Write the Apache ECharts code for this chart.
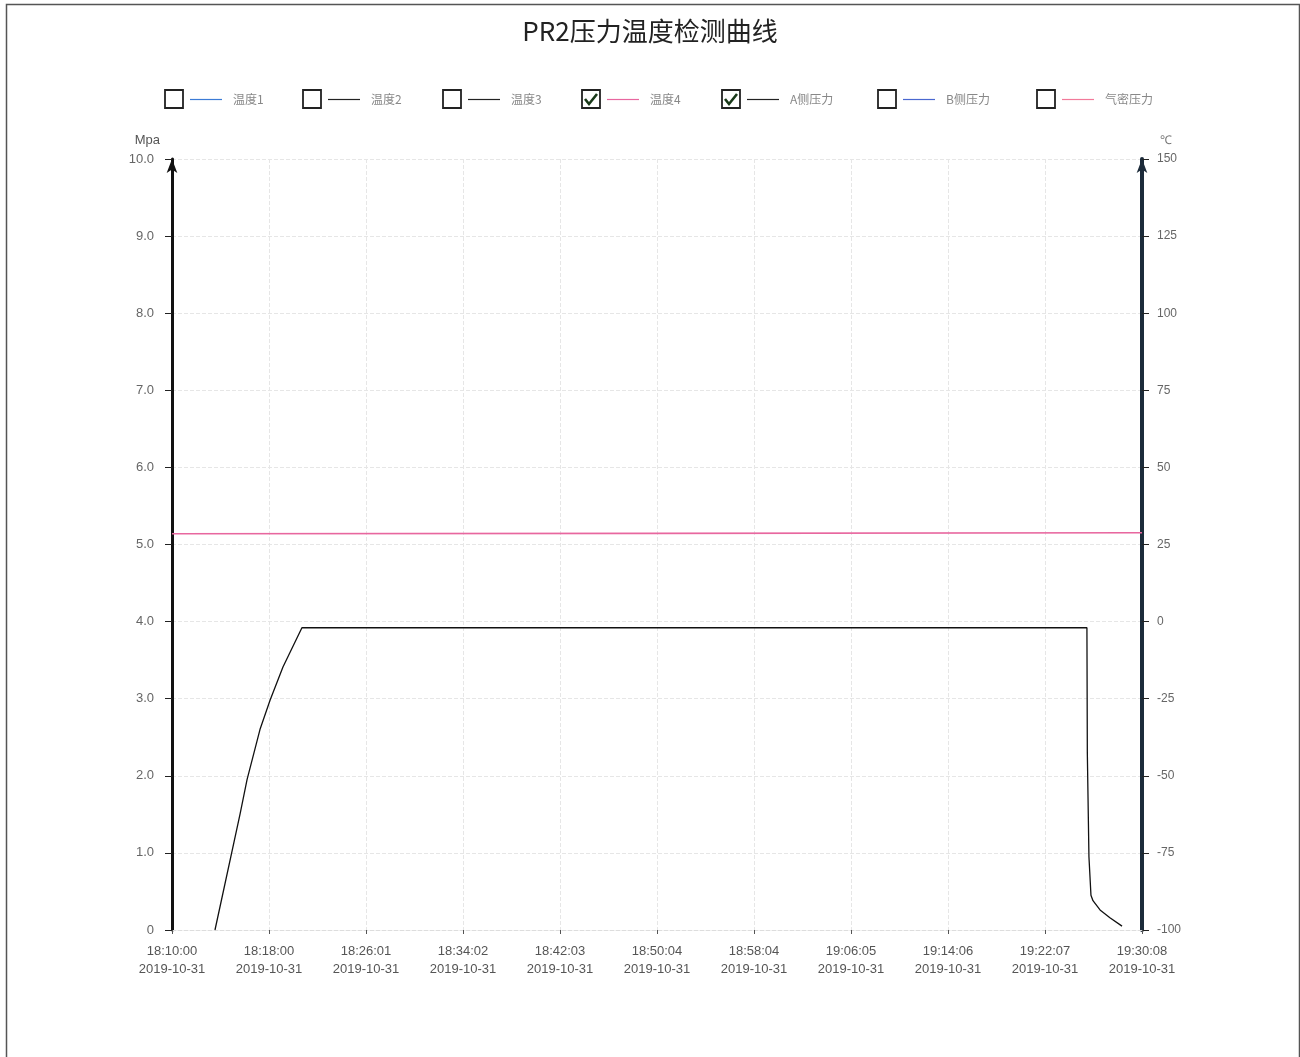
<!DOCTYPE html>
<html><head><meta charset="utf-8">
<script src="https://cdn.jsdelivr.net/npm/echarts@6/dist/echarts.min.js"></script>
<style>html,body{margin:0;padding:0;background:#fff}#c{width:1300px;height:1057px}</style>
</head><body><div id="c"></div>
<script>
// ---- data ----
var title = 'PR2压力温度检测曲线';
var startTime = '18:10:00';
var endTime = '19:30:08';
var dateStr = '2019-10-31';
var legendNames = ['温度1', '温度2', '温度3', '温度4', 'A侧压力', 'B侧压力', '气密压力'];
var legendColors = ['#3b7bd6', '#222222', '#222222', '#e8679f', '#222222', '#4a68d0', '#f27a9a'];
var legendChecked = [false, false, false, true, true, false, false];
var temp4 = [['18:10:00', 28.5], ['18:50:04', 28.6], ['19:30:08', 28.8]];
var pressureA = [
  ['18:13:33', 0.0], ['18:15:37', 1.5], ['18:16:12', 1.95], ['18:17:16', 2.6],
  ['18:18:06', 2.98], ['18:19:10', 3.41], ['18:20:44', 3.92], ['19:25:35', 3.92],
  ['19:25:37', 2.3], ['19:25:45', 0.95], ['19:25:55', 0.45], ['19:26:05', 0.38],
  ['19:26:40', 0.26], ['19:27:29', 0.16], ['19:28:29', 0.05]
];
var leftTicks = {min: 0, max: 10, interval: 1};
var rightTicks = {min: -100, max: 150, interval: 25};

// ---- helpers ----
function toSec(s){var p=s.split(':');return (+p[0])*3600+(+p[1])*60+(+p[2]);}
var t0 = toSec(startTime), t1 = toSec(endTime);
var span = t1 - t0;
function rel(arr){return arr.map(function(d){return [toSec(d[0]) - t0, d[1]];});}
function pad(n){return (n<10?'0':'')+n;}
function fmtTime(v){
  var s = Math.floor(v + 1e-6) + t0;
  return pad(Math.floor(s/3600))+':'+pad(Math.floor(s%3600/60))+':'+pad(s%60) + '\n' + dateStr;
}

// legend graphic (custom checkbox legend)
var legendX = [165, 303, 443, 582, 722, 878, 1037];
var g = [];
g.push({type:'rect', left:4, top:2, shape:{width:1293, height:1060}, style:{fill:'none', stroke:'#555', lineWidth:1.5}, silent:true});
legendNames.forEach(function(n, i){
  var x = legendX[i];
  g.push({type:'rect', shape:{x:x, y:90, width:18, height:18}, style:{fill:'#fff', stroke:'#222', lineWidth:1.8}});
  if (legendChecked[i]) {
    g.push({type:'polyline', shape:{points:[[x+3,99],[x+7,104],[x+15,94]]}, style:{stroke:'#1a3a1a', lineWidth:2.6, fill:null}});
  }
  g.push({type:'line', shape:{x1:x+25, y1:99.5, x2:x+57, y2:99.5}, style:{stroke:legendColors[i], lineWidth:1.2}});
  g.push({type:'text', x:x+68, y:99, style:{text:n, fill:'#888', font:'12px "Noto Sans CJK SC", sans-serif', textVerticalAlign:'middle'}});
});

var chart = echarts.init(document.getElementById('c'));
chart.setOption({
  animation: false,
  backgroundColor: '#fff',
  title: {text: title, left: 'center', top: 13, textStyle: {fontFamily: '"Noto Sans CJK SC", sans-serif', fontSize: 26, fontWeight: 'normal', color: '#222'}},
  grid: {left: 172, right: 158, top: 159, bottom: 127},
  graphic: g,
  xAxis: {
    type: 'value', min: 0, max: span, interval: span / 10,
    axisLine: {show: true, lineStyle: {color: '#ddd', type: 'dashed'}},
    axisTick: {show: true, length: 4, lineStyle: {color: '#555'}},
    splitLine: {show: true, lineStyle: {color: '#e6e6e6', type: 'dashed'}},
    axisLabel: {formatter: fmtTime, color: '#555', fontSize: 13, lineHeight: 18, margin: 12, fontFamily: 'Liberation Sans, Arial, sans-serif'}
  },
  yAxis: [
    {
      type: 'value', min: leftTicks.min, max: leftTicks.max, interval: leftTicks.interval,
      name: 'Mpa', nameGap: 12,
      nameTextStyle: {color: '#555', fontSize: 13, align: 'right', padding: [0, 12, 0, 0], fontFamily: 'Liberation Sans, Arial, sans-serif'},
      axisLine: {show: true, symbol: ['none', 'arrow'], symbolSize: [8, 14], lineStyle: {color: '#111', width: 3}},
      axisTick: {show: true, length: 7, lineStyle: {color: '#222'}},
      splitLine: {show: true, lineStyle: {color: '#e6e6e6', type: 'dashed'}},
      axisLabel: {formatter: function(v){return v === 0 ? '0' : v.toFixed(1);}, color: '#666', fontSize: 13, margin: 18, fontFamily: 'Liberation Sans, Arial, sans-serif'}
    },
    {
      type: 'value', min: rightTicks.min, max: rightTicks.max, interval: rightTicks.interval,
      name: '℃', nameGap: 12,
      nameTextStyle: {color: '#777', fontSize: 12, align: 'left', padding: [0, 0, 0, 18]},
      axisLine: {show: true, symbol: ['none', 'arrow'], symbolSize: [8, 14], lineStyle: {color: '#1c2b3a', width: 4}},
      axisTick: {show: true, length: 7, lineStyle: {color: '#222'}},
      splitLine: {show: false},
      axisLabel: {color: '#666', fontSize: 12, margin: 15, fontFamily: 'Liberation Sans, Arial, sans-serif'}
    }
  ],
  series: [
    {name: '温度4', type: 'line', yAxisIndex: 1, data: rel(temp4), showSymbol: false, lineStyle: {color: '#e8679f', width: 1.6}, itemStyle: {color: '#e8679f'}},
    {name: 'A侧压力', type: 'line', yAxisIndex: 0, data: rel(pressureA), showSymbol: false, lineStyle: {color: '#111', width: 1.3}, itemStyle: {color: '#111'}}
  ]
});
</script>
</body></html>
